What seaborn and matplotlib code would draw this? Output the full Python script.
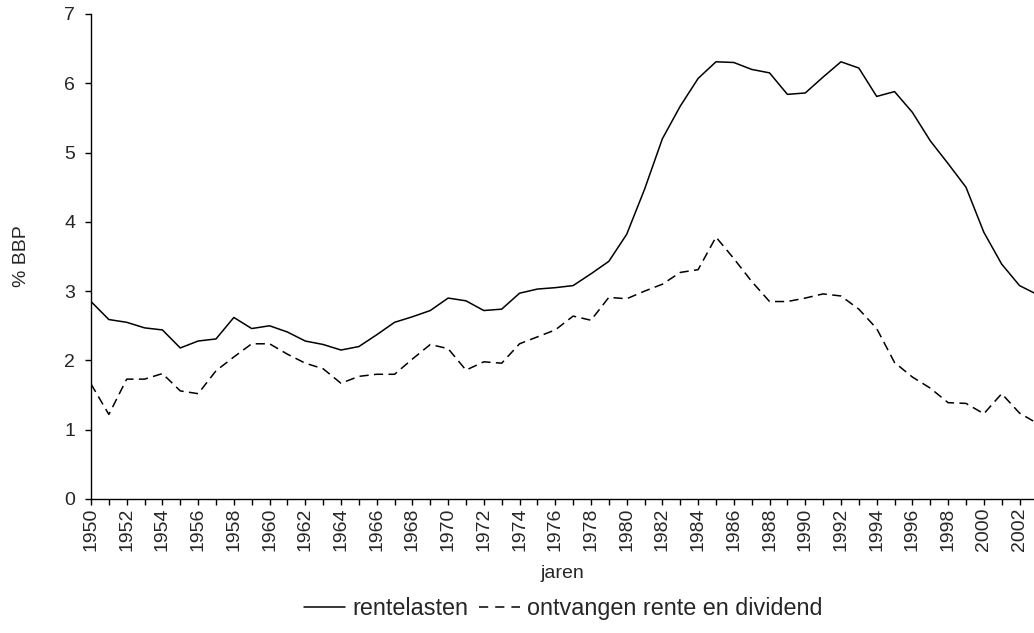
import numpy as np
import pandas as pd
import matplotlib
matplotlib.use("Agg")
import matplotlib.pyplot as plt
import matplotlib.ticker as mtick
import seaborn as sns
from matplotlib.lines import Line2D

years = list(range(1950, 2004))

rentelasten = [
    2.85, 2.59, 2.55, 2.47, 2.44, 2.18, 2.28, 2.31, 2.62, 2.46,
    2.50, 2.41, 2.28, 2.23, 2.15, 2.20, 2.37, 2.55, 2.63, 2.72,
    2.90, 2.86, 2.72, 2.74, 2.97, 3.03, 3.05, 3.08, 3.25, 3.43,
    3.82, 4.47, 5.20, 5.67, 6.07, 6.31, 6.30, 6.20, 6.15, 5.84,
    5.86, 6.09, 6.31, 6.22, 5.81, 5.88, 5.58, 5.17, 4.84, 4.50,
    3.85, 3.39, 3.08, 2.95,
]

ontvangen = [
    1.66, 1.22, 1.73, 1.73, 1.81, 1.56, 1.52, 1.85, 2.05, 2.24,
    2.24, 2.09, 1.96, 1.88, 1.67, 1.77, 1.80, 1.80, 2.02, 2.23,
    2.17, 1.86, 1.98, 1.96, 2.24, 2.34, 2.44, 2.64, 2.58, 2.91,
    2.89, 3.00, 3.10, 3.27, 3.31, 3.78, 3.47, 3.14, 2.85, 2.85,
    2.90, 2.96, 2.93, 2.74, 2.46, 1.97, 1.76, 1.60, 1.39, 1.38,
    1.23, 1.52, 1.24, 1.09,
]

series_labels = ["rentelasten", "ontvangen rente en dividend"]

sns.set_theme(style="white")
plt.rcParams["font.family"] = ["Liberation Sans", "DejaVu Sans"]

TICK_SIZE = 14
LABEL_SIZE = 14
LEGEND_SIZE = 16.8

df = pd.DataFrame({"jaar": years, series_labels[0]: rentelasten, series_labels[1]: ontvangen})

fig = plt.figure(figsize=(10.34, 6.33), dpi=100)
ax = fig.add_axes([0.088, 0.2117, 0.912, 0.7662])

sns.lineplot(data=df, x="jaar", y=series_labels[0], ax=ax, color="black", linewidth=1.1)
sns.lineplot(data=df, x="jaar", y=series_labels[1], ax=ax, color="black", linewidth=1.1,
             linestyle=(0, (6, 3.5)))

ax.set_xlim(1950, 2002.81)
ax.set_ylim(0, 7)
ax.xaxis.set_major_locator(mtick.MultipleLocator(2))
ax.xaxis.set_minor_locator(mtick.MultipleLocator(1))
ax.xaxis.set_major_formatter(mtick.FormatStrFormatter("%d"))
ax.yaxis.set_major_locator(mtick.MultipleLocator(1))
ax.tick_params(axis="x", which="both", direction="out", length=4.3, width=1, color="black",
               bottom=True, labelrotation=90, pad=2, labelsize=TICK_SIZE)
ax.tick_params(axis="y", direction="out", length=4.3, width=1, color="black", left=True,
               pad=7, labelsize=TICK_SIZE)

for side in ["top", "right"]:
    ax.spines[side].set_visible(False)
for side in ["left", "bottom"]:
    ax.spines[side].set_color("black")
    ax.spines[side].set_linewidth(1)

ax.set_xlabel("jaren", labelpad=10, fontsize=LABEL_SIZE)
ax.set_ylabel("% BBP", labelpad=25, fontsize=LABEL_SIZE)
ax.grid(False)

handles = [
    Line2D([0], [0], color="black", linewidth=1.1),
    Line2D([0], [0], color="black", linewidth=1.1, linestyle=(0, (6, 4.6))),
]
fig.legend(handles, series_labels, loc="center", bbox_to_anchor=(0.545, 0.038), ncol=2,
           frameon=False, handlelength=1.75, handletextpad=0.3, columnspacing=0.47,
           fontsize=LEGEND_SIZE, borderpad=0, borderaxespad=0)

fig.savefig("out.png", dpi=100)
